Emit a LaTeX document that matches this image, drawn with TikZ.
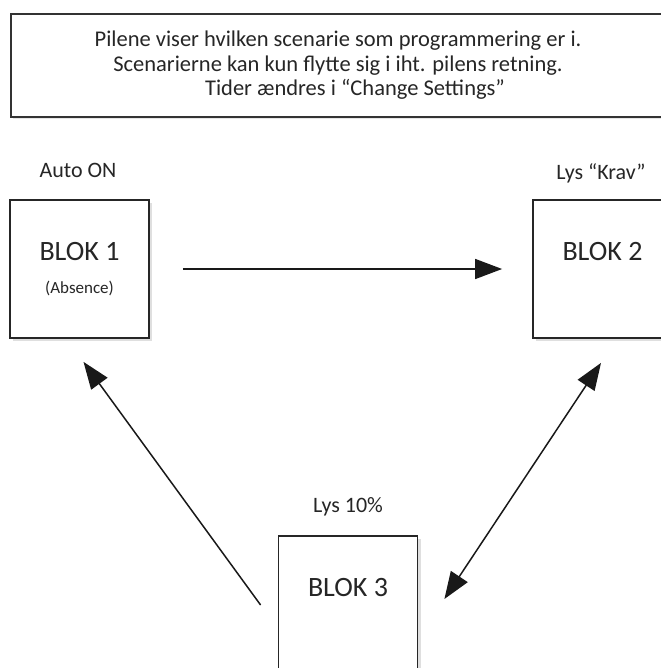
\documentclass[tikz,border=0pt]{standalone}
\usepackage{fontspec}
\setmainfont{Carlito}
\usepackage{tikz}
\usetikzlibrary{arrows.meta,shadows,calc}

\tikzset{
  blok/.style={draw=black!85, line width=1.8pt, fill=white, minimum width=139pt, minimum height=138pt,
    align=center, inner sep=0pt, font=\fontsize{28}{30}\selectfont, text=black!85,
    drop shadow={shadow xshift=3pt, shadow yshift=-3pt, opacity=0.25}},
  infobox/.style={draw=black!80, line width=2pt, fill=white, minimum width=654pt, minimum height=103pt,
    align=center, inner sep=0pt, font=\fontsize{22.5}{24.5}\selectfont, text=black!85,
    drop shadow={shadow xshift=2pt, shadow yshift=-2pt, opacity=0.2}},
  caption/.style={font=\fontsize{22}{24}\selectfont, text=black!85, inner sep=0pt},
  arr/.style={draw=black!90, line width=1.5pt, -{Triangle[length=27pt,width=20pt]}},
  dblarr/.style={draw=black!90, line width=1.5pt, {Triangle[length=27pt,width=20pt]}-{Triangle[length=27pt,width=20pt]}}
}
\newcommand{\absfont}{\fontsize{17}{19}\selectfont}

\begin{document}
\begin{tikzpicture}[x=1pt,y=-1pt]
\useasboundingbox[fill=white] (0,0) rectangle (660,668);

% tekstboks
\node[infobox] (info) at (338,65.5) {Pilene viser hvilken scenarie som programmering er i.\\
Scenarierne kan kun flytte sig i iht. pilens retning.\\
\hspace*{34pt}Tider ændres i “Change Settings”};

% blokke
\node[blok] (b1) at (79.5,269) {BLOK 1\\[3pt]{\absfont (Absence)}};
\node[blok] (b2) at (602.5,269) {BLOK 2\\[3pt]{\absfont\phantom{(Absence)}}};
\node[blok] (b3) at (348,605) {BLOK 3\\[3pt]{\absfont\phantom{(Absence)}}};

% overskrifter
\node[caption] (c1) at (78,170) {Auto ON};
\node[caption] (c2) at (601,173) {Lys “Krav”};
\node[caption] (c3) at (348,507) {Lys 10\%};

% pile
\draw[arr] ([shift={(33,0)}]b1.east) -- ([shift={(-30,0)}]b2.west);
\draw[arr] ([shift={(-17,0)}]b3.west) -- ([shift={(4,23)}]b1.south);
\draw[dblarr] ([shift={(-1.5,24)}]b2.south) -- ([shift={(26,-6)}]b3.east);
\end{tikzpicture}
\end{document}
